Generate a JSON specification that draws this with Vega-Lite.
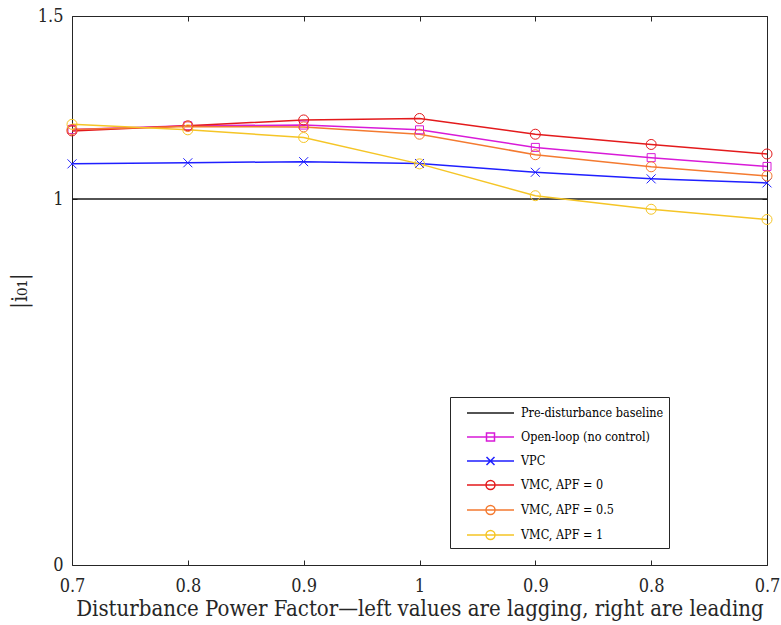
{
  "$schema": "https://vega.github.io/schema/vega-lite/v6.json",
  "width": 695,
  "height": 549,
  "autosize": {"type": "none"},
  "padding": {"left": 72, "top": 16, "right": 14, "bottom": 60},
  "background": "white",
  "config": {
    "font": "DejaVu Serif Condensed",
    "view": {"stroke": "#262626", "strokeWidth": 1},
    "axis": {
      "domain": false,
      "grid": false,
      "tickColor": "#262626",
      "tickSize": -5,
      "labelFont": "DejaVu Serif Condensed",
      "labelFontSize": 18,
      "labelColor": "#262626",
      "labelFlush": false,
      "titleFont": "DejaVu Serif Condensed",
      "titleFontSize": 22,
      "titleFontWeight": "normal",
      "titleColor": "#262626"
    }
  },
  "data": {
    "values": [
      {"series": "Pre-disturbance baseline", "idx": 0, "value": 1.0},
      {"series": "Pre-disturbance baseline", "idx": 1, "value": 1.0},
      {"series": "Pre-disturbance baseline", "idx": 2, "value": 1.0},
      {"series": "Pre-disturbance baseline", "idx": 3, "value": 1.0},
      {"series": "Pre-disturbance baseline", "idx": 4, "value": 1.0},
      {"series": "Pre-disturbance baseline", "idx": 5, "value": 1.0},
      {"series": "Pre-disturbance baseline", "idx": 6, "value": 1.0},
      {"series": "Open-loop (no control)", "idx": 0, "value": 1.19},
      {"series": "Open-loop (no control)", "idx": 1, "value": 1.2},
      {"series": "Open-loop (no control)", "idx": 2, "value": 1.202},
      {"series": "Open-loop (no control)", "idx": 3, "value": 1.189},
      {"series": "Open-loop (no control)", "idx": 4, "value": 1.141},
      {"series": "Open-loop (no control)", "idx": 5, "value": 1.113},
      {"series": "Open-loop (no control)", "idx": 6, "value": 1.089},
      {"series": "VPC", "idx": 0, "value": 1.096},
      {"series": "VPC", "idx": 1, "value": 1.099},
      {"series": "VPC", "idx": 2, "value": 1.102},
      {"series": "VPC", "idx": 3, "value": 1.097},
      {"series": "VPC", "idx": 4, "value": 1.073},
      {"series": "VPC", "idx": 5, "value": 1.055},
      {"series": "VPC", "idx": 6, "value": 1.044},
      {"series": "VMC, APF = 0", "idx": 0, "value": 1.186},
      {"series": "VMC, APF = 0", "idx": 1, "value": 1.2},
      {"series": "VMC, APF = 0", "idx": 2, "value": 1.216},
      {"series": "VMC, APF = 0", "idx": 3, "value": 1.22},
      {"series": "VMC, APF = 0", "idx": 4, "value": 1.177},
      {"series": "VMC, APF = 0", "idx": 5, "value": 1.149},
      {"series": "VMC, APF = 0", "idx": 6, "value": 1.123},
      {"series": "VMC, APF = 0.5", "idx": 0, "value": 1.19},
      {"series": "VMC, APF = 0.5", "idx": 1, "value": 1.198},
      {"series": "VMC, APF = 0.5", "idx": 2, "value": 1.197},
      {"series": "VMC, APF = 0.5", "idx": 3, "value": 1.177},
      {"series": "VMC, APF = 0.5", "idx": 4, "value": 1.121},
      {"series": "VMC, APF = 0.5", "idx": 5, "value": 1.088},
      {"series": "VMC, APF = 0.5", "idx": 6, "value": 1.063},
      {"series": "VMC, APF = 1", "idx": 0, "value": 1.204},
      {"series": "VMC, APF = 1", "idx": 1, "value": 1.189},
      {"series": "VMC, APF = 1", "idx": 2, "value": 1.168},
      {"series": "VMC, APF = 1", "idx": 3, "value": 1.096},
      {"series": "VMC, APF = 1", "idx": 4, "value": 1.009},
      {"series": "VMC, APF = 1", "idx": 5, "value": 0.972},
      {"series": "VMC, APF = 1", "idx": 6, "value": 0.944}
    ]
  },
  "layer": [
    {
      "mark": {"type": "line", "strokeWidth": 1.5},
      "encoding": {
        "x": {
          "field": "idx", "type": "quantitative",
          "scale": {"domain": [0, 6], "nice": false, "zero": false},
          "axis": {
            "orient": "bottom",
            "values": [0, 1, 2, 3, 4, 5, 6],
            "labelExpr": "['0.7','0.8','0.9','1','0.9','0.8','0.7'][datum.value]",
            "labelPadding": 17,
            "title": "Disturbance Power Factor—left values are lagging, right are leading",
            "titlePadding": 3
          }
        },
        "y": {
          "field": "value", "type": "quantitative",
          "scale": {"domain": [0, 1.5], "nice": false, "zero": false},
          "axis": {
            "orient": "left",
            "values": [0, 1, 1.5],
            "labelExpr": "datum.value === 0 ? '0' : datum.value === 1 ? '1' : '1.5'",
            "labelPadding": 14,
            "title": "|i₀₁|",
            "titlePadding": 6
          }
        },
        "color": {
          "field": "series", "type": "nominal",
          "scale": {
            "domain": ["Pre-disturbance baseline", "Open-loop (no control)", "VPC", "VMC, APF = 0", "VMC, APF = 0.5", "VMC, APF = 1"],
            "range": ["#1a1a1a", "#d81ad8", "#1f1fff", "#e31a1c", "#f47a30", "#f5c526"]
          },
          "legend": {
            "title": null,
            "orient": "none",
            "legendX": 378,
            "legendY": 381,
            "padding": 5,
            "rowPadding": 6,
            "symbolSize": 400,
            "symbolStrokeWidth": 1.5,
            "labelOffset": 44,
            "labelFont": "DejaVu Serif Condensed",
            "labelFontSize": 12.5,
            "labelColor": "#000000",
            "labelLimit": 400,
            "strokeColor": "#262626",
            "fillColor": "white",
            "cornerRadius": 0,
            "encode": {
              "symbols": {
                "update": {
                  "shape": {"signal": "datum.value === 'Pre-disturbance baseline' ? 'M0.1,0H4.8' : datum.value === 'Open-loop (no control)' ? 'M0.1,0H4.8M2.05,-0.4H2.85V0.4H2.05Z' : datum.value === 'VPC' ? 'M0.1,0H4.8M2.05,-0.4L2.85,0.4M2.05,0.4L2.85,-0.4' : 'M0.1,0H4.8M2.9,0A0.45,0.45,0,1,1,2.0,0A0.45,0.45,0,1,1,2.9,0'"},
                  "fill": {"value": "transparent"},
                  "strokeWidth": {"value": 1.5}
                }
              }
            }
          }
        }
      }
    },
    {
      "transform": [{"filter": "datum.series !== 'Pre-disturbance baseline'"}],
      "mark": {"type": "point", "filled": false, "strokeWidth": 1, "size": 100, "opacity": 1},
      "encoding": {
        "x": {
          "field": "idx", "type": "quantitative",
          "axis": {"orient": "top", "values": [0, 1, 2, 3, 4, 5, 6], "labels": false, "title": null}
        },
        "y": {
          "field": "value", "type": "quantitative",
          "axis": {"orient": "right", "values": [0, 1, 1.5], "labels": false, "title": null}
        },
        "color": {"field": "series", "type": "nominal", "legend": null},
        "shape": {
          "field": "series", "type": "nominal",
          "scale": {
            "domain": ["Open-loop (no control)", "VPC", "VMC, APF = 0", "VMC, APF = 0.5", "VMC, APF = 1"],
            "range": ["M-0.8,-0.8H0.8V0.8H-0.8Z", "M-0.9,-0.9L0.9,0.9M-0.9,0.9L0.9,-0.9", "circle", "circle", "circle"]
          },
          "legend": null
        }
      }
    }
  ],
  "resolve": {"axis": {"x": "independent", "y": "independent"}}
}
